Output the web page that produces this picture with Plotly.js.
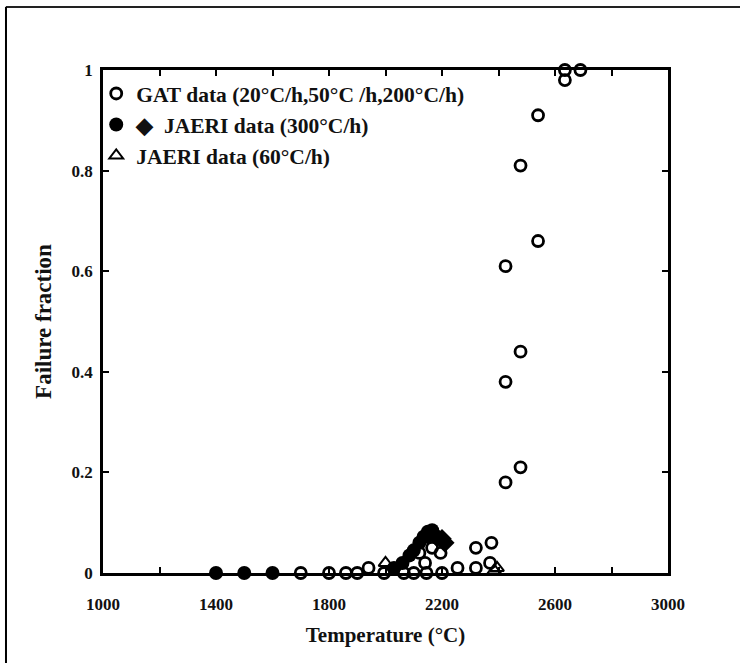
<!DOCTYPE html>
<html>
<head>
<meta charset="utf-8">
<script src="https://cdn.plot.ly/plotly-3.0.1.min.js"></script>
<style>html,body{margin:0;padding:0;background:#fff;}#chart{width:740px;height:663px;}</style>
</head>
<body>
<div id="chart"></div>
<script>
// GAT data (open circles)
const gatTemp = [1700,1800,1860,1900,1940,1995,2065,2100,2145,2200,2255,2320,2320,2375,2370,2120,2165,2195,2140,2425,2425,2425,2478,2478,2478,2540,2540,2635,2635,2690];
const gatFrac = [0,0,0,0,0.01,0,0,0,0,0,0.01,0.01,0.05,0.06,0.02,0.04,0.05,0.04,0.02,0.18,0.38,0.61,0.21,0.44,0.81,0.66,0.91,0.98,1.0,1.0];
// JAERI 300°C/h (filled circles)
const jaeriCircTemp = [1400,1500,1600,2030,2060,2085,2100,2120,2135,2150,2165];
const jaeriCircFrac = [0,0,0,0.01,0.02,0.035,0.045,0.06,0.072,0.082,0.085];
// JAERI 300°C/h (filled diamonds)
const jaeriDiaTemp = [2150,2180,2200,2210];
const jaeriDiaFrac = [0.075,0.072,0.068,0.06];
// JAERI 60°C/h (open triangles)
const jaeri60Temp = [2000,2385,2395];
const jaeri60Frac = [0.02,0.005,0.01];

const xTickVals = [1000,1200,1400,1600,1800,2000,2200,2400,2600,2800,3000];
const xTickText = ['1000','','1400','','1800','','2200','','2600','','3000'];
const yTickVals = [0,0.2,0.4,0.6,0.8,1];
const yTickText = ['0','0.2','0.4','0.6','0.8','1'];

const serif = 'Liberation Serif, Times New Roman, serif';

const traces = [
  {x: gatTemp, y: gatFrac, type:'scatter', mode:'markers', name:'GAT data (20°C/h,50°C /h,200°C/h)',
   marker:{symbol:'circle-open', size:11, color:'#000', line:{width:2.8, color:'#000'}}, cliponaxis:false},
  {x: jaeriCircTemp, y: jaeriCircFrac, type:'scatter', mode:'markers', name:'◆  JAERI data (300°C/h)',
   marker:{symbol:'circle', size:14, color:'#000'}, cliponaxis:false},
  {x: jaeriDiaTemp, y: jaeriDiaFrac, type:'scatter', mode:'markers', name:'JAERI diamonds', showlegend:false,
   marker:{symbol:'diamond', size:15, color:'#000'}, cliponaxis:false},
  {x: jaeri60Temp, y: jaeri60Frac, type:'scatter', mode:'markers', name:'JAERI data (60°C/h)',
   marker:{symbol:'triangle-up-open', size:12, color:'#000', line:{width:2, color:'#000'}}, cliponaxis:false}
];

const axisCommon = {
  showgrid:false, zeroline:false, showline:true, linecolor:'#000', linewidth:2.8,
  mirror:'ticks', ticks:'inside', ticklen:6, tickwidth:2, tickcolor:'#000',
  tickfont:{family:serif, size:17, color:'#111', weight:'bold'}
};

const layout = {
  width:740, height:663,
  margin:{l:103, r:72, t:70, b:90},
  paper_bgcolor:'#fff', plot_bgcolor:'#fff',
  showlegend:true,
  legend:{x:-0.012, y:0.994, xanchor:'left', yanchor:'top', bgcolor:'rgba(0,0,0,0)',
          font:{family:serif, size:21.5, color:'#111', weight:'bold'}, itemsizing:'trace', tracegroupgap:0},
  xaxis: Object.assign({}, axisCommon, {
    range:[1000,3000], tickmode:'array', tickvals:xTickVals, ticktext:xTickText, ticklabelstandoff:14,
    title:{text:'Temperature (°C)', font:{family:serif, size:21, color:'#111', weight:'bold'}, standoff:14}
  }),
  yaxis: Object.assign({}, axisCommon, {
    range:[0,1], tickmode:'array', tickvals:yTickVals, ticktext:yTickText, ticklabelstandoff:4,
    title:{text:'Failure fraction', font:{family:serif, size:23, color:'#111', weight:'bold'}, standoff:14}
  }),
  shapes:[
    {type:'line', xref:'paper', yref:'paper', x0:-0.172, x1:1.2, y0:1.1252, y1:1.1252, line:{color:'#222', width:2}},
    {type:'line', xref:'paper', yref:'paper', x0:-0.1717, x1:-0.1717, y0:1.1252, y1:-0.2, line:{color:'#000', width:2}}
  ]
};

Plotly.newPlot('chart', traces, layout, {displayModeBar:false, staticPlot:true});
</script>
</body>
</html>
